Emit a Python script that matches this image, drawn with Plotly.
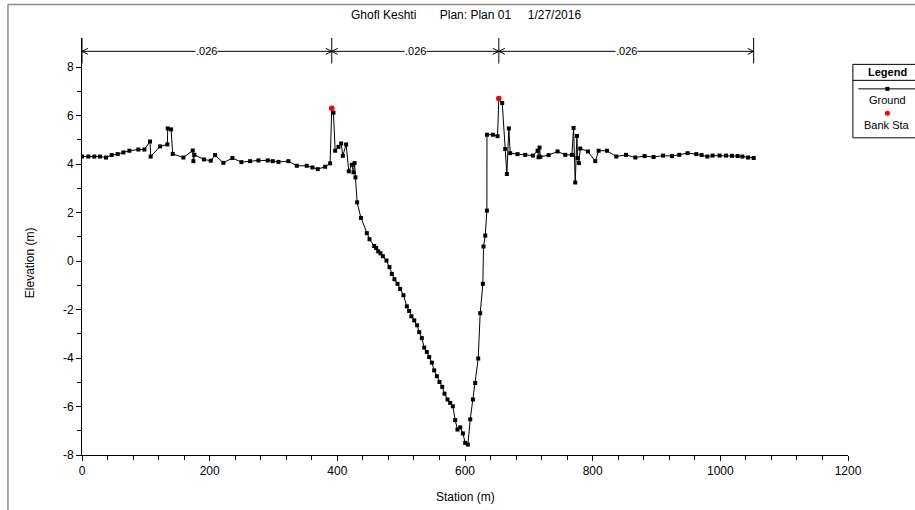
import plotly.graph_objects as go

# ---------------- data ----------------
station = [0, 9.9, 19.3, 28.2, 37.6, 46.5, 55.9, 64.8, 74.2, 88.3, 97.7, 106.6, 107.6, 122.3,
           133.7, 134.3, 139.5, 142.1, 158.8, 173.5, 174.5, 176.1, 191.2, 201.7, 208.5, 221.5,
           235.6, 249.7, 263.3, 276.4, 291.0, 298.8, 307.7, 323.4, 336.5, 352.1, 361.0, 369.4,
           380.9, 388.7, 391.3, 393.9, 396.6, 401.8, 406.0, 408.6, 413.8, 418.0, 422.7, 425.3,
           427.0, 428.4, 431.0, 437.0, 446.2, 450.4, 457.7, 460.8, 464.0, 467.6, 471.3, 477.0,
           481.7, 485.4, 489.5, 494.3, 498.4, 503.6, 508.9, 512.5, 516.0, 520.5, 525.0, 528.2,
           532.4, 536.1, 540.2, 543.9, 548.1, 551.7, 555.9, 560.0, 564.3, 567.9, 572.6, 576.8,
           581.0, 584.6, 588.2, 592.5, 596.7, 600.3, 604.5, 608.2, 612.4, 616.0, 620.7, 623.8,
           628.0, 629.0, 631.7, 634.3, 634.4, 643.7, 651.0, 653.0, 658.3, 663.0, 665.6, 668.7,
           670.8, 682.3, 694.4, 706.4, 713.7, 715.2, 716.8, 718.0, 730.9, 745.0, 757.1, 767.5,
           770.1, 772.7, 775.3, 776.3, 778.4, 780.6, 792.6, 804.1, 809.3, 822.4, 837.0, 852.2,
           866.8, 881.3, 895.5, 910.2, 924.3, 935.7, 948.7, 962.4, 970.7, 979.6, 987.9, 998.9,
           1008.9, 1018.3, 1027.1, 1034.5, 1043.4, 1052.2]
elevation = [4.31, 4.31, 4.31, 4.31, 4.27, 4.37, 4.41, 4.48, 4.55, 4.60, 4.60, 4.93, 4.31, 4.73,
             4.81, 5.47, 5.43, 4.42, 4.27, 4.56, 4.12, 4.38, 4.19, 4.14, 4.37, 4.05,
             4.25, 4.08, 4.12, 4.15, 4.15, 4.12, 4.09, 4.12, 3.93, 3.93, 3.86, 3.79,
             3.89, 4.03, 6.30, 6.12, 4.55, 4.71, 4.85, 4.34, 4.81, 3.70, 3.97, 3.66,
             4.04, 3.45, 2.42, 1.78, 1.15, 0.90, 0.62, 0.54, 0.40, 0.32, 0.20, 0.02,
             -0.25, -0.53, -0.75, -0.94, -1.15, -1.41, -1.87, -2.06, -2.28, -2.45, -2.65, -2.93,
             -3.18, -3.57, -3.75, -3.96, -4.19, -4.51, -4.75, -4.99, -5.19, -5.47, -5.71, -5.85,
             -5.99, -6.56, -6.95, -6.86, -7.11, -7.50, -7.57, -6.53, -5.71, -5.03, -4.02, -2.15,
             -0.94, 0.60, 1.05, 2.08, 5.21, 5.21, 5.15, 6.70, 6.52, 4.62, 3.59, 5.47,
             4.45, 4.41, 4.38, 4.35, 4.55, 4.28, 4.68, 4.30, 4.37, 4.52, 4.38, 4.38,
             5.49, 3.24, 5.16, 4.25, 4.04, 4.64, 4.52, 4.12, 4.55, 4.55, 4.31, 4.38,
             4.27, 4.33, 4.29, 4.35, 4.33, 4.38, 4.45, 4.41, 4.37, 4.31, 4.35, 4.35,
             4.35, 4.34, 4.33, 4.31, 4.27, 4.25]
bank_station = [391.3, 653.0]
bank_elevation = [6.30, 6.70]
mannings_n = [".026", ".026", ".026"]

title_text = "Ghofl Keshti\u00a0\u00a0\u00a0\u00a0\u00a0\u00a0\u00a0Plan: Plan 01\u00a0\u00a0\u00a0\u00a0\u00a01/27/2016"
x_ticks = [0, 200, 400, 600, 800, 1000, 1200]
y_ticks = [-8, -6, -4, -2, 0, 2, 4, 6, 8]

# ---------------- layout geometry ----------------
W, H = 915, 510
ML, MR, MT, MB = 82, 67.4, 37.6, 55
PW, PH = W - ML - MR, H - MT - MB
YMIN, YMAX = -8, 9.2
FONT = "Arial, Liberation Sans, sans-serif"


def px(xp):
    return (xp - ML) / PW


def py(yp):
    return (H - MB - yp) / PH


fig = go.Figure()
fig.add_trace(go.Scatter(x=station, y=elevation, mode="lines+markers", name="Ground",
                         line=dict(color="black", width=1),
                         marker=dict(symbol="square", size=4, color="black"),
                         showlegend=False))
fig.add_trace(go.Scatter(x=bank_station, y=bank_elevation, mode="markers", name="Bank Sta",
                         marker=dict(symbol="circle", size=5.5, color="red"),
                         showlegend=False))

shapes = []
annotations = []


def text_ann(x, y, text, size=12, **kw):
    d = dict(x=x, y=y, xref="paper", yref="paper", text=text, showarrow=False,
             xanchor="center", yanchor="middle",
             font=dict(family=FONT, size=size, color="black"))
    d.update(kw)
    return d


# roughness header
bounds = [station[0]] + bank_station + [station[-1]]
y_arrow = 8.65
for xb in bounds:
    shapes.append(dict(type="line", xref="x", yref="y", x0=xb, x1=xb, y0=8.15, y1=YMAX,
                       line=dict(color="black", width=1)))
for i, n in enumerate(mannings_n):
    a, b = bounds[i], bounds[i + 1]
    shapes.append(dict(type="line", xref="x", yref="y", x0=a, x1=b, y0=y_arrow, y1=y_arrow,
                       line=dict(color="black", width=1)))
    shapes.append(dict(type="path", xref="x", yref="y", xsizemode="pixel", ysizemode="pixel",
                       xanchor=a, yanchor=y_arrow, path="M 6,3 L 0,0 L 6,-3",
                       line=dict(color="black", width=1)))
    shapes.append(dict(type="path", xref="x", yref="y", xsizemode="pixel", ysizemode="pixel",
                       xanchor=b, yanchor=y_arrow, path="M -6,3 L 0,0 L -6,-3",
                       line=dict(color="black", width=1)))
    annotations.append(dict(x=(a + b) / 2, y=y_arrow, xref="x", yref="y", text=n,
                            showarrow=False, bgcolor="white", borderpad=0,
                            xanchor="center", yanchor="middle",
                            font=dict(family=FONT, size=11, color="black")))

# title and axis titles
annotations.append(text_ann(px(466), py(15), title_text))
annotations.append(text_ann(px(465), py(497), "Station (m)"))
annotations.append(text_ann(px(30), py(262), "Elevation (m)", textangle=-90))

# outer frame (gray)
shapes.append(dict(type="line", xref="paper", yref="paper", x0=px(8), x1=px(8), y0=py(4), y1=py(520),
                   line=dict(color="#8a8a8a", width=1.5)))
shapes.append(dict(type="line", xref="paper", yref="paper", x0=px(8), x1=px(930), y0=py(4), y1=py(4),
                   line=dict(color="#8a8a8a", width=1.5)))

# legend box
LX0, LX1, LY0, LY1 = 852.5, 925, 64, 137.5
LC = 887
shapes.append(dict(type="rect", xref="paper", yref="paper", x0=px(LX0), x1=px(LX1), y0=py(LY1), y1=py(LY0),
                   line=dict(color="black", width=1), fillcolor="white", layer="below"))
shapes.append(dict(type="line", xref="paper", yref="paper", x0=px(LX0), x1=px(LX1), y0=py(80), y1=py(80),
                   line=dict(color="black", width=1)))
shapes.append(dict(type="line", xref="paper", yref="paper", x0=px(858), x1=px(925), y0=py(88.5), y1=py(88.5),
                   line=dict(color="black", width=1)))
shapes.append(dict(type="rect", xref="paper", yref="paper", x0=px(LC - 2), x1=px(LC + 2), y0=py(90.5), y1=py(86.5),
                   line=dict(color="black", width=0), fillcolor="black"))
shapes.append(dict(type="circle", xref="paper", yref="paper", x0=px(LC - 2.5), x1=px(LC + 2.5), y0=py(115.5), y1=py(110.5),
                   line=dict(color="red", width=0), fillcolor="red"))
annotations.append(text_ann(px(LC), py(71.5), "<b>Legend</b>", size=11))
annotations.append(text_ann(px(LC), py(99.5), "Ground", size=11))
annotations.append(text_ann(px(LC), py(124.5), "Bank Sta", size=11))

axis_common = dict(showgrid=False, zeroline=False, showline=True, linecolor="black", linewidth=1,
                   ticks="outside", ticklen=5, tickcolor="black", tickwidth=1,
                   tickfont=dict(family=FONT, size=12, color="black"), mirror=False)

fig.update_layout(
    width=W, height=H,
    margin=dict(l=ML, r=MR, t=MT, b=MB, autoexpand=False),
    paper_bgcolor="white", plot_bgcolor="white",
    showlegend=False,
    shapes=shapes, annotations=annotations,
    xaxis=dict(range=[0, 1200], tickmode="array", tickvals=x_ticks,
               ticktext=[str(v) for v in x_ticks],
               minor=dict(tickmode="array", tickvals=[v for v in range(40, 1200, 40) if v % 200],
                          ticks="outside", ticklen=4, tickcolor="black", tickwidth=1, showgrid=False),
               **axis_common),
    yaxis=dict(range=[YMIN, YMAX], tickmode="array", tickvals=y_ticks,
               ticktext=[str(v) for v in y_ticks],
               minor=dict(tickmode="array", tickvals=[-7, -5, -3, -1, 1, 3, 5, 7],
                          ticks="outside", ticklen=4, tickcolor="black", tickwidth=1, showgrid=False),
               **axis_common),
)

fig.write_html("out.html")
